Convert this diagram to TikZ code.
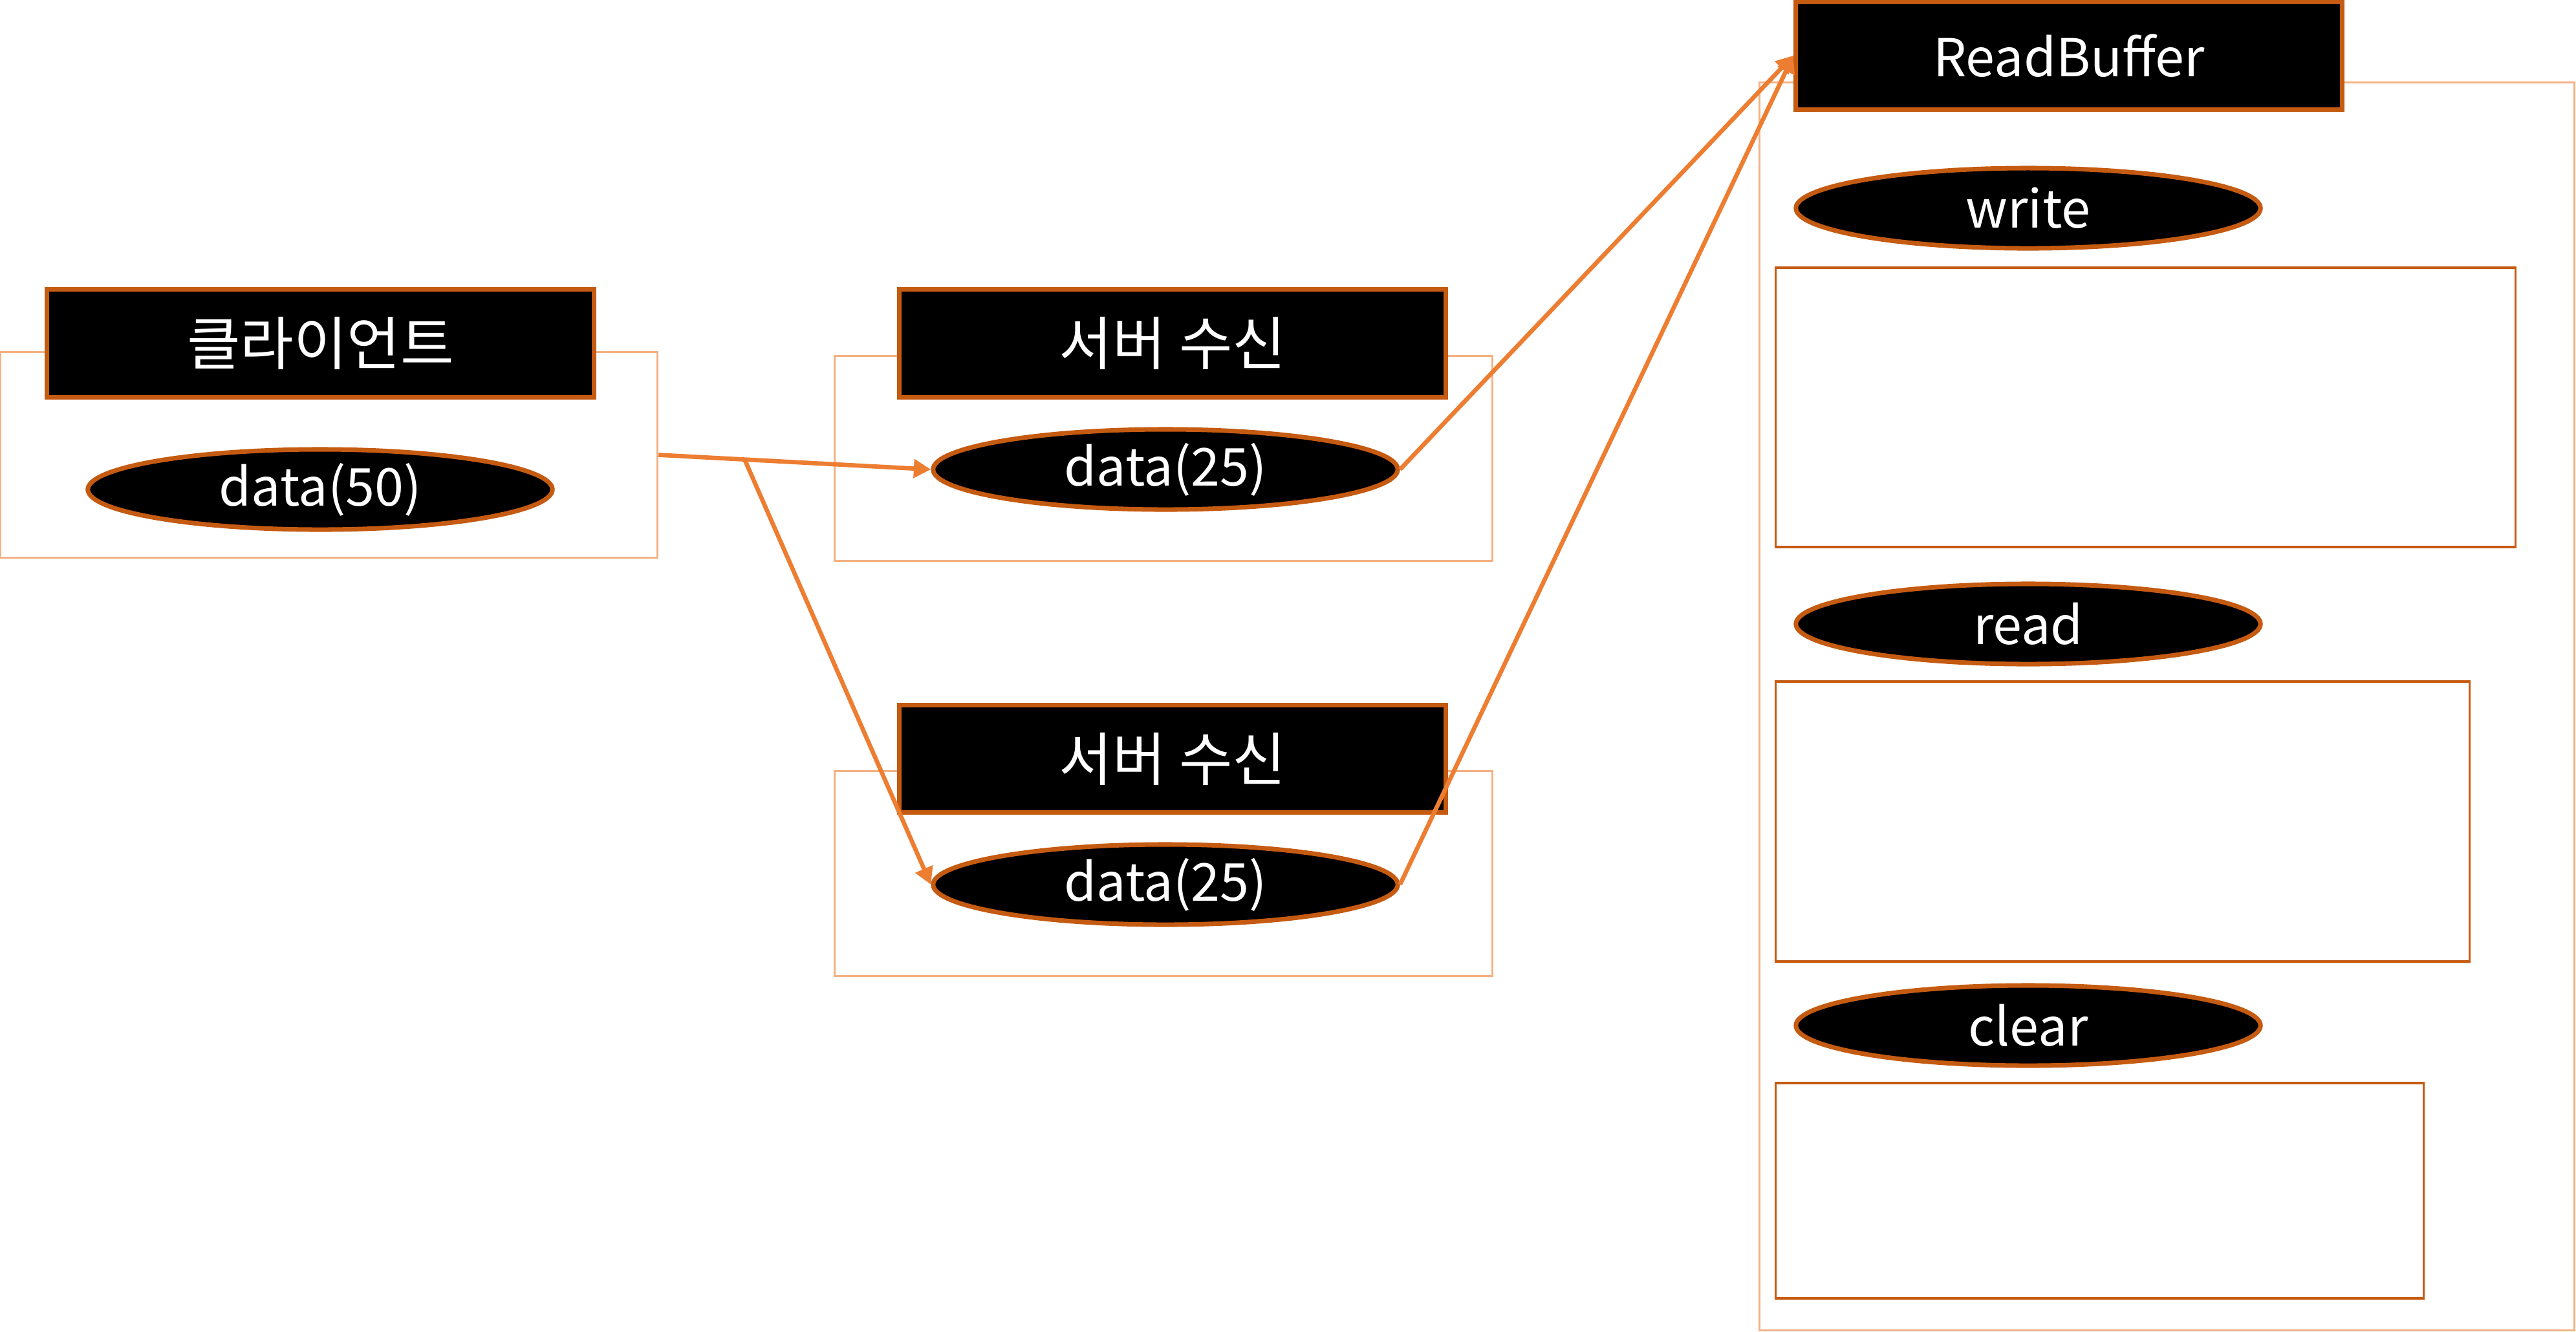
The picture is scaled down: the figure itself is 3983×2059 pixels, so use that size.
\documentclass[tikz,border=0pt]{standalone}
\usepackage{fontspec}
\setmainfont{Noto Sans CJK KR}
\usetikzlibrary{shapes.geometric,arrows.meta,calc}
\definecolor{dorange}{HTML}{C55A11}
\definecolor{aorange}{HTML}{ED7D31}
\definecolor{lorange}{HTML}{F4B183}
\begin{document}
\begin{tikzpicture}[x=0.01cm,y=-0.01cm,
  hdr/.style={draw=dorange,line width=2pt,fill=black,text=white,minimum width=8.45cm,minimum height=1.66cm,inner sep=0pt,font=\fontsize{23}{28}\selectfont},
  krtext/.style={font=\fontsize{25.5}{30}\selectfont\addfontfeatures{}},
  oval/.style={ellipse,draw=dorange,line width=2pt,fill=black,text=white,minimum width=7.18cm,minimum height=1.24cm,inner sep=0pt,font=\fontsize{23}{28}\selectfont},
  outer/.style={draw=lorange,line width=0.85pt,inner sep=0pt},
  innerbox/.style={draw=dorange,line width=1pt,inner sep=0pt},
  conn/.style={draw=aorange,line width=1.9pt,-{Triangle[length=7.5pt,width=8pt]}}
]
\useasboundingbox (0,0) rectangle (3983,2059);

% outer boxes
\node[outer,minimum width=10.16cm,minimum height=3.17cm] (cbox) at (508.5,703.5) {};
\node[outer,minimum width=10.16cm,minimum height=3.16cm] (s1box) at (1799,709) {};
\node[outer,minimum width=10.16cm,minimum height=3.16cm] (s2box) at (1799,1351) {};
\node[outer,minimum width=12.59cm,minimum height=19.29cm] (rbbox) at (3350.5,1092.5) {};

% inner boxes of ReadBuffer
\node[innerbox,minimum width=11.43cm,minimum height=4.32cm] (wbox) at (3317.5,630) {};
\node[innerbox,minimum width=10.72cm,minimum height=4.33cm] (rbox) at (3282,1270.5) {};
\node[innerbox,minimum width=10.01cm,minimum height=3.33cm] (clbox) at (3246.5,1841.5) {};

% headers
\node[hdr,krtext] (client) at (495.5,531) {클라이언트};
\node[hdr,krtext] (srv1) at (1813,531) {서버 수신};
\node[hdr,krtext] (srv2) at (1813,1173.5) {서버 수신};
\node[hdr] (rb) at (3199,86) {ReadBuffer};

% ellipses
\node[oval] (d50) at (495,757) {data(50)};
\node[oval] (e1) at (1802,726) {data(25)};
\node[oval] (e2) at (1802,1368) {data(25)};
\node[oval] (wr) at (3136,322) {write};
\node[oval] (rd) at (3136,965) {read};
\node[oval] (cl) at (3136,1586) {clear};

% connectors
\coordinate (br) at ($(cbox.east)!0.316!(e1.west)$);
\draw[conn] (cbox.east) -- (e1.west);
\draw[conn] (br) -- (e2.west);
\draw[conn] (e1.east) -- (rb.west);
\draw[conn] (e2.east) -- (rb.west);
\end{tikzpicture}
\end{document}
